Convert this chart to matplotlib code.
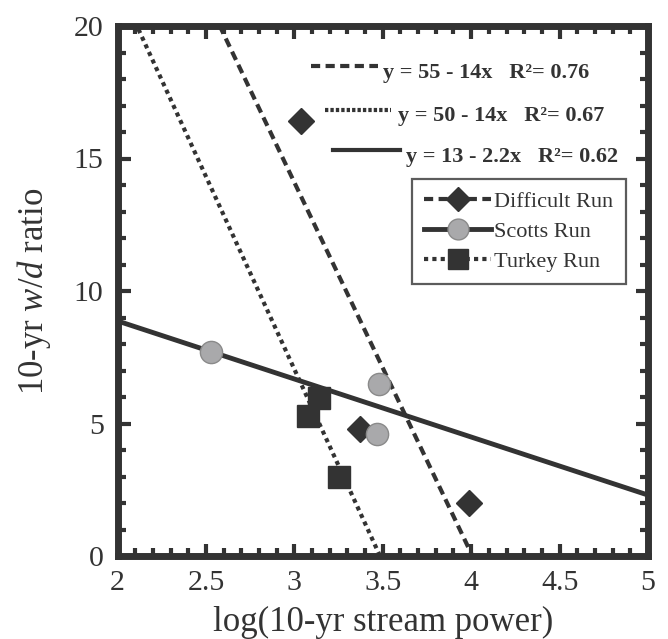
import matplotlib
matplotlib.use("Agg")
import matplotlib.pyplot as plt
import numpy as np
from matplotlib.ticker import MultipleLocator, FuncFormatter
from matplotlib.lines import Line2D

plt.rcParams['font.family'] = ['Liberation Serif', 'DejaVu Serif']
plt.rcParams['mathtext.fontset'] = 'custom'
plt.rcParams['mathtext.rm'] = 'Liberation Serif'
plt.rcParams['mathtext.it'] = 'Liberation Serif:italic'

# Data
difficult_x = [3.04, 3.37, 3.99]
difficult_y = [16.4, 4.8, 2.0]
scotts_x = [2.53, 3.48, 3.47]
scotts_y = [7.7, 6.5, 4.6]
turkey_x = [3.14, 3.08, 3.25]
turkey_y = [5.96, 5.28, 2.98]

# fitted lines (intercept, slope) as drawn in the picture
difficult_fit = (56.1, -14.0)
turkey_fit = (50.7, -14.55)
scotts_fit = (13.25, -2.19)

eq_labels = ["y = 55 - 14x   R\u00b2= 0.76",
             "y = 50 - 14x   R\u00b2= 0.67",
             "y = 13 - 2.2x   R\u00b2= 0.62"]
series_names = ['Difficult Run', 'Scotts Run', 'Turkey Run']

dark = '#333333'
grey = '#a9a9ab'
dash_style = (0, (2.2, 1.3))
dot_style = (0, (1.0, 1.0))

W, H = 668, 639
fig = plt.figure(figsize=(W / 100, H / 100), dpi=100)
ax = fig.add_axes([117.5 / W, 1 - 556 / H, (648 - 117.5) / W, (556 - 26) / H])

xs = np.linspace(2, 5, 400)
ax.plot(xs, difficult_fit[0] + difficult_fit[1] * xs, color=dark, lw=3, ls=dash_style)
ax.plot(xs, turkey_fit[0] + turkey_fit[1] * xs, color=dark, lw=3, ls=dot_style)
ax.plot(xs, scotts_fit[0] + scotts_fit[1] * xs, color=dark, lw=3.5, ls='-')

ax.plot(difficult_x, difficult_y, ls='none', marker='D', ms=13, color=dark, mec=dark, zorder=5)
ax.plot(scotts_x, scotts_y, ls='none', marker='o', ms=16, color=grey, mec='#8a8a8a', mew=1, zorder=5)
ax.plot(turkey_x, turkey_y, ls='none', marker='s', ms=16, color=dark, mec=dark, zorder=5)

ax.set_xlim(2, 5)
ax.set_ylim(0, 20)
ax.xaxis.set_major_locator(MultipleLocator(0.5))
ax.xaxis.set_minor_locator(MultipleLocator(0.1))
ax.yaxis.set_major_locator(MultipleLocator(5))
ax.yaxis.set_minor_locator(MultipleLocator(1))
ax.xaxis.set_major_formatter(FuncFormatter(lambda v, p: f"{v:g}"))

ax.tick_params(which='both', direction='in', top=True, right=True, color=dark, labelcolor=dark,
               labelsize=21.5)
ax.tick_params(axis='x', which='major', pad=10)
ax.tick_params(axis='y', which='major', pad=10)
ax.tick_params(which='major', length=9, width=3)
ax.tick_params(which='minor', length=6, width=3)
for s in ax.spines.values():
    s.set_linewidth(5)
    s.set_color(dark)

ax.set_xlabel('log(10-yr stream power)', fontsize=25, color=dark, labelpad=7)
ax.set_ylabel('10-yr $w/d$ ratio', fontsize=25, color=dark, labelpad=15)

# equation annotations with line samples
samples = [(dash_style, 311, 378, 66, 383, 78),
           ((0, (0.8, 0.5)), 325, 391, 110, 398, 121),
           ('-', 333, 400, 150, 406, 162)]
for (lsty, x0, x1, yl, xt, yt), lab in zip(samples, eq_labels):
    fig.add_artist(Line2D([x0 / W, x1 / W], [1 - yl / H, 1 - yl / H], color=dark, lw=3, ls=lsty,
                          transform=fig.transFigure))
    fig.text(xt / W, 1 - yt / H, lab, fontsize=16, fontweight='bold', color=dark,
             va='baseline', ha='left')

h1 = Line2D([], [], color=dark, lw=3, ls=dash_style, marker='D', ms=12, mec=dark)
h2 = Line2D([], [], color=dark, lw=3.5, ls='-', marker='o', ms=15, mfc=grey, mec='#8a8a8a')
h3 = Line2D([], [], color=dark, lw=3, ls=dot_style, marker='s', ms=15, mec=dark)
leg = ax.legend([h1, h2, h3], series_names,
                loc='upper left', bbox_to_anchor=((412 - 117.5) / 530.5, 1 - (179 - 26) / 530),
                fontsize=16, frameon=True, fancybox=False, edgecolor=dark,
                handlelength=3.0, handletextpad=0.15, borderpad=0.55, labelspacing=0.43,
                borderaxespad=0)
leg.get_frame().set_linewidth(1.6)
for t in leg.get_texts():
    t.set_color(dark)

fig.savefig('out.png', dpi=100)
